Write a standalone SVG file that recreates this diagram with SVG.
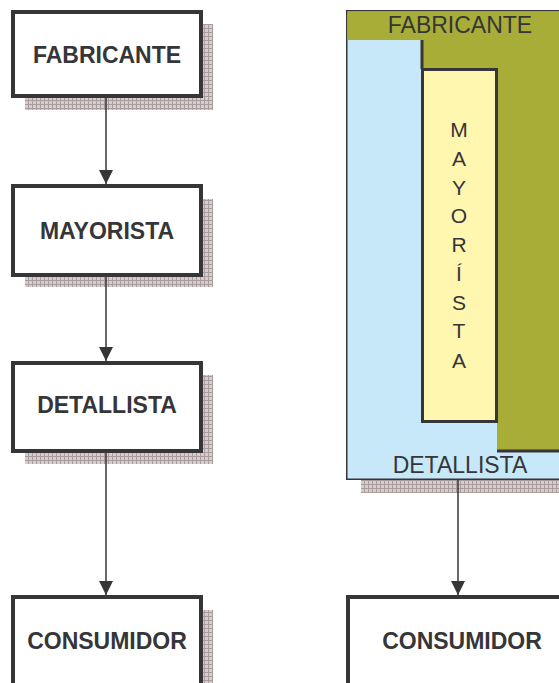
<svg xmlns="http://www.w3.org/2000/svg" width="559" height="683" viewBox="0 0 559 683">
  <style>
    .box { fill: #ffffff; stroke: #363538; stroke-width: 4; }
    .lbl { font-family: "Liberation Sans", Arial, sans-serif; font-size: 23px; font-weight: bold; fill: #363538; text-anchor: middle; }
    .lbl2 { font-family: "Liberation Sans", Arial, sans-serif; font-size: 23px; fill: #363538; text-anchor: middle; }
    .vlet { font-family: "Liberation Sans", Arial, sans-serif; font-size: 21px; fill: #363538; text-anchor: middle; }
    .shadow { fill: url(#grid); }
    .conn { stroke: #363538; stroke-width: 1.5; fill: none; marker-end: url(#arrow); }
    .edge { stroke: #363538; stroke-width: 3; fill: none; }
  </style>
  <defs>
    <pattern id="grid" x="0" y="0" width="4" height="4" patternUnits="userSpaceOnUse">
      <rect width="4" height="4" fill="#d6cece"/>
      <path d="M0,0.5 H4 M0.5,0 V4" stroke="#a99c9c" stroke-width="1"/>
    </pattern>
    <marker id="arrow" markerUnits="userSpaceOnUse" markerWidth="14" markerHeight="14" refX="14" refY="7" orient="auto">
      <path d="M0,0 L14,7 L0,14 z" fill="#363538"/>
    </marker>
  </defs>

  <!-- Left column -->
  <g id="fabricante">
    <rect class="shadow" x="25" y="24" width="188" height="86"/>
    <rect class="box" x="13" y="12" width="188" height="84"/>
    <text class="lbl" x="107" y="63">FABRICANTE</text>
  </g>
  <g id="mayorista">
    <rect class="shadow" x="25" y="199" width="188" height="88"/>
    <rect class="box" x="13" y="186" width="188" height="89"/>
    <text class="lbl" x="107" y="239">MAYORISTA</text>
  </g>
  <g id="detallista">
    <rect class="shadow" x="25" y="375" width="188" height="89"/>
    <rect class="box" x="13" y="363" width="188" height="88"/>
    <text class="lbl" x="107" y="413">DETALLISTA</text>
  </g>
  <g id="consumidor">
    <rect class="shadow" x="25" y="610" width="188" height="100"/>
    <rect class="box" x="13" y="597" width="188" height="110"/>
    <text class="lbl" x="107" y="649">CONSUMIDOR</text>
  </g>

  <!-- Right column -->
  <g id="canal-integrado">
    <rect class="shadow" x="361" y="480" width="240" height="13"/>
    <rect x="346.75" y="10.75" width="240" height="468.5" fill="#c6e8f8" stroke="#363538" stroke-width="1.5"/>
    <path d="M347.5,11.5 H600 V451 H497 V69 H422 V40 H347.5 Z" fill="#a8ad37"/>
    <path class="edge" d="M422,40 V69"/>
    <path class="edge" d="M497,451 H600"/>
    <text class="lbl2" x="460" y="33">FABRICANTE</text>
    <text class="lbl2" x="460" y="473">DETALLISTA</text>
  </g>
  <g id="mayorista-vertical">
    <rect x="422.5" y="69.5" width="74" height="352" fill="#fff6b0" stroke="#363538" stroke-width="3"/>
    <text class="vlet" x="459" y="137">M</text>
    <text class="vlet" x="459" y="166">A</text>
    <text class="vlet" x="459" y="195">Y</text>
    <text class="vlet" x="459" y="223">O</text>
    <text class="vlet" x="459" y="252">R</text>
    <text class="vlet" x="459" y="281">Í</text>
    <text class="vlet" x="459" y="310">S</text>
    <text class="vlet" x="459" y="338">T</text>
    <text class="vlet" x="459" y="368">A</text>
  </g>
  <g id="consumidor-2">
    <rect class="box" x="348" y="597" width="240" height="110"/>
    <text class="lbl" x="462" y="649">CONSUMIDOR</text>
  </g>

  <!-- Connectors -->
  <g id="connectors">
    <line class="conn" x1="106" y1="98" x2="106" y2="184"/>
    <line class="conn" x1="106" y1="277" x2="106" y2="361"/>
    <line class="conn" x1="106" y1="453" x2="106" y2="595"/>
    <line class="conn" x1="458" y1="480" x2="458" y2="595"/>
  </g>
</svg>
